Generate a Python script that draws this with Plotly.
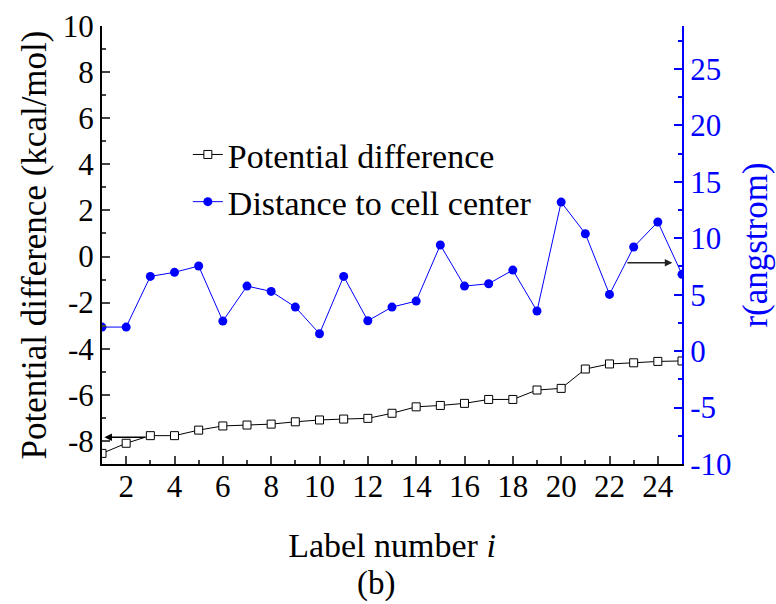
import plotly.graph_objects as go

label_number = list(range(1, 26))
potential_difference = [-8.54, -8.10, -7.77, -7.77, -7.53, -7.35, -7.31, -7.27, -7.17, -7.09,
                        -7.05, -7.02, -6.80, -6.52, -6.46, -6.37, -6.20, -6.20, -5.79, -5.72,
                        -4.88, -4.66, -4.61, -4.55, -4.53]
distance_to_center = [2.13, 2.13, 6.62, 6.98, 7.54, 2.66, 5.76, 5.29, 3.90, 1.54,
                      6.62, 2.69, 3.90, 4.43, 9.40, 5.76, 5.97, 7.18, 3.55, 13.2,
                      10.4, 5.02, 9.22, 11.44, 6.80]

left_tick_values = [-8, -6, -4, -2, 0, 2, 4, 6, 8, 10]
left_tick_labels = ["-8", "-6", "-4", "-2", "0", "2", "4", "6", "8", "10"]
right_tick_values = [-10, -5, 0, 5, 10, 15, 20, 25]
right_tick_labels = ["-10", "-5", "0", "5", "10", "15", "20", "25"]

FONT = "Liberation Serif, Times New Roman, serif"
BLUE = "#0000ff"

fig = go.Figure()
fig.add_trace(go.Scatter(
    x=label_number, y=potential_difference, name="Potential difference",
    mode="lines+markers",
    line=dict(color="black", width=1),
    marker=dict(symbol="square", size=8, color="white", line=dict(color="black", width=1)),
    yaxis="y",
))
fig.add_trace(go.Scatter(
    x=label_number, y=distance_to_center, name="Distance to cell center",
    mode="lines+markers",
    line=dict(color=BLUE, width=1),
    marker=dict(symbol="circle", size=9, color=BLUE),
    yaxis="y2",
))

# arrows pointing to the axes
fig.add_annotation(x=1.1, y=-7.84, ax=2.84, ay=-7.84, xref="x", yref="y", axref="x", ayref="y",
                   text="", showarrow=True, arrowhead=2, arrowsize=1, arrowwidth=1.5, arrowcolor="black")
fig.add_annotation(x=24.6, y=7.83, ax=22.68, ay=7.83, xref="x", yref="y2", axref="x", ayref="y2",
                   text="", showarrow=True, arrowhead=2, arrowsize=1, arrowwidth=1.5, arrowcolor="#222222")

fig.add_annotation(x=0.472, y=-0.272, xref="paper", yref="paper", text="(b)", showarrow=False,
                   font=dict(family=FONT, size=33, color="black"), xanchor="center", yanchor="middle")

fig.update_layout(
    width=776, height=604,
    margin=dict(l=102, r=94, t=26, b=140, autoexpand=False),
    paper_bgcolor="white", plot_bgcolor="white",
    font=dict(family=FONT, size=31, color="black"),
    showlegend=True,
    legend=dict(x=0.148, y=0.772, xanchor="left", yanchor="top",
                bgcolor="rgba(0,0,0,0)", font=dict(family=FONT, size=34, color="black"),
                tracegroupgap=0),
    xaxis=dict(
        range=[1, 25], dtick=2, tick0=0, ticks="inside", ticklen=8, tickwidth=2,
        minor=dict(dtick=1, ticks="inside", ticklen=4, tickwidth=2),
        showline=True, linecolor="black", linewidth=2, showgrid=False, zeroline=False,
        automargin=False, ticklabelstandoff=-6,
        tickfont=dict(family=FONT, size=31, color="black"),
        title=dict(text="Label number <i>i</i>", font=dict(family=FONT, size=34, color="black"), standoff=30),
    ),
    yaxis=dict(
        range=[-9, 10], tickvals=left_tick_values, ticktext=left_tick_labels,
        ticks="inside", ticklen=8, tickwidth=2,
        minor=dict(dtick=1, tick0=0, ticks="inside", ticklen=4, tickwidth=2),
        showline=True, linecolor="black", linewidth=2, showgrid=False, zeroline=False,
        automargin=False,
        tickfont=dict(family=FONT, size=31, color="black"),
        title=dict(text="Potential difference (kcal/mol)", font=dict(family=FONT, size=35, color="black"), standoff=6),
    ),
    yaxis2=dict(
        range=[-10, 28.8], tickvals=right_tick_values, ticktext=right_tick_labels,
        ticks="inside", ticklen=8, tickwidth=2, tickcolor=BLUE,
        minor=dict(dtick=2.5, tick0=0, ticks="inside", ticklen=4, tickwidth=2, tickcolor=BLUE),
        overlaying="y", side="right",
        showline=True, linecolor=BLUE, linewidth=2, showgrid=False, zeroline=False,
        automargin=False,
        tickfont=dict(family=FONT, size=31, color=BLUE),
        title=dict(text="r(angstrom)", font=dict(family=FONT, size=35, color=BLUE), standoff=12),
    ),
)

fig.write_html("out.html")
